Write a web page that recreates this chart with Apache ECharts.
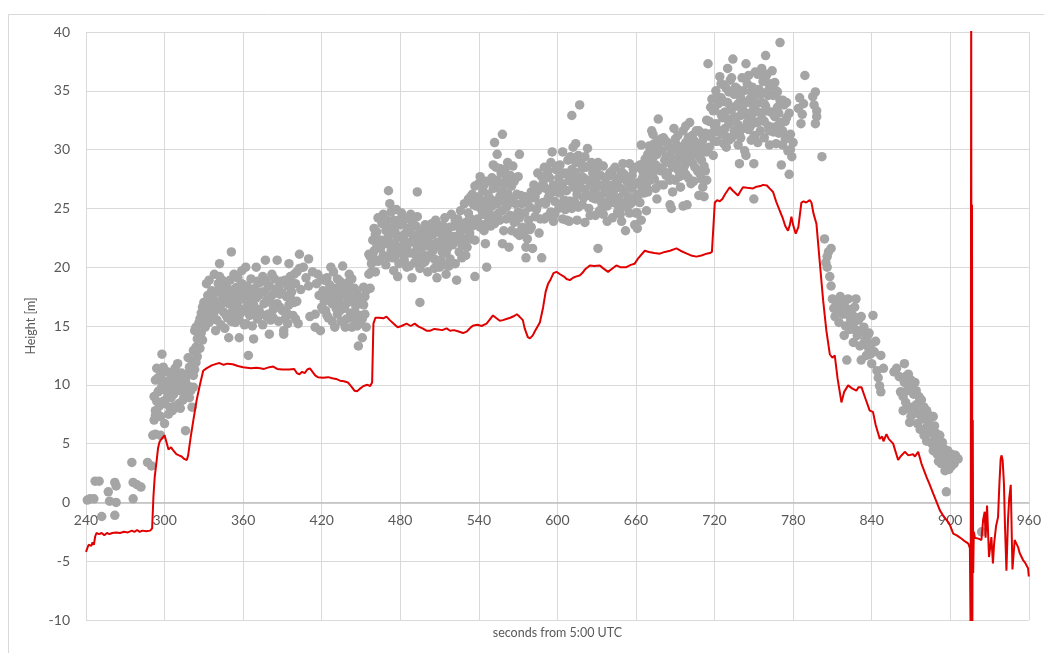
<!DOCTYPE html>
<html>
<head>
<meta charset="utf-8">
<title>Height vs time</title>
<script src="https://cdn.jsdelivr.net/npm/echarts@6/dist/echarts.min.js"></script>
<style>
  html, body { margin: 0; padding: 0; background: #fff; }
  #chart { width: 1044px; height: 653px; }
</style>
</head>
<body>
<div id="chart"></div>
<script>
// axis setup
const xMin = 240, xMax = 960, xStep = 60;
const yMin = -10, yMax = 40, yStep = 5;

// gray dots, [seconds, height], by stretch of time
const dotsClimb = [
  [241,0.2],[243,0.3],[246,0.3],[247,1.8],[250,1.8],[252,-1.2],[257,0.9],[258,0.1],[262,1.7],[263,1.4],[263,0.0],[262,-1.1],
  [275,3.4],[276,1.7],[279,1.5],[282,1.3],[276,0.3],[287,3.4],[290,3.1],[291,5.7],[292,7.0],[293,7.4],[293,7.8],[294,7.7],
  [293,5.8],[297,5.7],[300,6.7],[295,9.4],[296,9.5],[293,10.4],[294,11.4],[298,11.2],[299,11.5],[298,12.6],[297,10.8],
  [300,8.4],[302,8.9],[303,9.6],[305,10.6],[306,7.8],[304,8.1],[307,9.2],[308,11.4],[310,11.8],[310,10.2],[311,8.4],
  [312,9.5],[313,9.8],[314,8.7],[316,10.4],[316,6.1],[317,9.4],[319,8.9],[320,10.9],[321,8.1],[321,12.1],[322,9.8],
  [323,11.3],[323,14.6],[324,13.2],[325,12.4],[326,14.0],[326,15.2],[327,13.1],[328,16.1],[329,13.8],[329,16.6],[330,15.4],
  [292,9.0],[294,8.6],[295,10.6],[296,8.2],[297,7.3],[298,9.9],[299,8.6],[300,10.3],[301,9.5],[302,11.1],[303,7.5],
  [304,10.0],[305,8.9],[306,9.8],[307,10.8],[308,8.2],[309,9.6],[311,10.7],[312,8.0],[313,11.0],[314,9.9],[315,9.0],
  [317,10.9],[318,9.9],[318,12.3],[319,11.5],[320,9.5],[322,12.9],[322,10.8],[324,11.9],[324,14.9],[325,13.9],[327,15.6],
  [328,14.4],[330,17.0]
];
const dotsFirstStep = [
  [331,14.9],[332,18.6],[332,17.1],[333,16.0],[334,18.9],[334,15.3],[335,16.9],[335,15.9],[336,18.0],[337,17.4],[338,19.4],
  [338,16.2],[339,14.6],[340,17.9],[340,15.5],[341,16.7],[342,20.3],[342,19.2],[342,18.2],[343,15.1],[344,17.3],[345,16.2],
  [346,18.5],[346,14.8],[347,17.6],[348,15.7],[349,16.9],[349,14.0],[350,18.9],[350,17.2],[351,21.3],[351,15.4],[352,16.3],
  [353,18.1],[354,17.0],[355,15.8],[356,19.1],[356,16.6],[357,14.0],[357,15.5],[358,17.8],[359,18.6],[360,16.4],[361,17.3],
  [362,20.0],[362,15.2],[363,18.4],[364,12.5],[364,16.1],[365,17.7],[366,19.0],[367,15.0],[368,13.9],[368,16.8],[369,18.2],
  [370,20.0],[370,17.4],[371,15.6],[372,16.4],[373,18.7],[374,17.9],[375,15.1],[376,16.9],[377,20.6],[377,18.9],[378,17.2],
  [379,16.0],[380,14.3],[380,18.4],[381,15.5],[382,17.6],[383,16.4],[384,19.0],[385,18.1],[386,20.6],[386,16.9],[387,15.4],
  [388,17.7],[389,18.8],[390,16.3],[391,14.3],[391,14.6],[392,15.6],[393,17.5],[394,18.4],[395,20.3],[395,16.8],[396,19.2],
  [397,17.9],[398,15.9],[399,19.4],[400,18.6],[401,17.1],[402,15.2],[403,21.1],[403,19.9],[404,18.1],[406,20.0],[408,19.1],
  [410,20.7],[410,18.4],[411,15.8],[413,19.6],[415,14.9],[415,16.0],[416,18.6],[417,19.4],[418,17.6],[419,14.6],[420,16.6],
  [421,18.0],[422,17.1],[423,16.3],[424,19.1],[425,17.7],[425,15.7],[426,18.5],[427,20.0],[428,16.9],[429,19.6],[430,14.9],
  [430,17.4],[431,18.2],[432,16.0],[433,17.0],[434,18.8],[435,15.4],[436,20.1],[436,17.6],[437,16.5],[438,14.9],[439,18.0],
  [440,17.0],[441,19.4],[441,18.4],[442,16.1],[443,14.9],[444,17.3],[445,15.5],[446,16.7],[447,17.8],[448,13.3],[449,15.2],
  [450,15.9],[451,14.0],[452,16.8],[453,17.5],[454,14.9],[454,18.0],
  [331,16.4],[333,17.6],[336,16.5],[337,15.6],[339,17.0],[341,18.6],[343,16.8],[344,18.9],[345,17.7],[347,15.9],[348,18.2],
  [350,16.0],[352,17.6],[353,19.4],[354,15.3],[355,18.3],[357,17.2],[358,16.1],[359,19.7],[360,17.9],[361,15.1],[363,16.7],
  [365,15.9],[366,18.0],[367,17.1],[369,16.2],[371,18.8],[372,17.6],[374,16.0],[375,19.2],[376,17.9],[378,15.8],[379,18.3],
  [381,17.0],[382,19.4],[383,15.7],[385,16.6],[387,18.3],[388,16.6],[390,17.8],[392,18.9],[393,16.2],[394,15.2],[396,17.4],
  [398,18.6],[399,17.0],[400,15.6],[401,19.6],
  [420,19.0],[421,16.4],[422,18.9],[423,17.8],[424,15.9],[426,17.2],[427,18.3],[428,15.4],[429,17.6],[431,16.5],[432,19.0],
  [433,18.0],[434,16.3],[435,17.8],[437,18.5],[438,16.8],[439,15.6],[440,18.7],[442,17.5],[443,19.0],[444,15.8],[445,18.2],
  [446,16.1],[447,15.0],[448,16.9],[450,17.2],[451,15.6],[452,18.3],[453,16.0]
];
const dotsSecondStep = [
  [456,19.4],[456,21.1],[457,18.2],[458,20.3],[458,19.6],[459,22.3],[460,21.4],[461,22.8],[461,19.6],[462,23.0],[463,20.5],
  [464,22.3],[465,21.6],[466,23.7],[467,24.5],[468,22.2],[469,23.1],[470,20.9],[470,24.0],[471,26.5],[471,22.6],[472,25.4],
  [473,21.4],[474,20.8],[474,23.3],[475,24.0],[475,19.7],[476,22.0],[477,23.6],[478,19.2],[478,21.3],[479,24.0],[480,22.6],
  [481,21.7],[482,23.9],[483,20.6],[484,22.9],[485,20.0],[485,21.8],[486,23.3],[487,22.1],[488,24.5],[489,19.1],[489,21.2],
  [490,24.2],[490,22.7],[491,20.4],[492,23.5],[493,26.4],[493,21.7],[494,22.4],[495,17.0],[495,19.9],[496,23.1],[497,21.1],
  [498,22.3],[499,20.5],[500,23.1],[500,21.8],[501,19.6],[502,22.6],[503,20.9],[504,23.7],[505,22.8],[505,21.4],[506,19.9],
  [507,24.0],[508,19.1],[508,22.1],[509,20.5],[510,20.0],[510,23.3],[511,21.7],[512,22.6],[513,20.2],[514,24.2],[515,19.4],
  [515,21.2],[516,23.0],[517,22.3],[518,20.7],[519,24.5],[520,21.9],[521,23.5],[522,20.3],[523,18.9],[523,22.6],[524,24.1],
  [525,21.3],[526,24.8],[526,23.0],[527,20.8],[528,22.2],[529,25.4],[530,23.8],[531,21.7],[532,24.6],[533,22.9],[534,26.0],
  [535,23.5],[536,25.3],[537,19.2],[537,22.3],[538,25.2],[539,24.1],[540,27.1],[540,26.0],[541,23.4],[542,24.9],[543,26.5],
  [544,25.6],[545,22.0],[545,27.3],[546,20.0],[546,23.7],[547,26.2],[548,24.6],[549,25.8],[550,27.6],[551,28.7],[551,24.3],
  [552,30.6],[552,26.8],[553,28.5],[554,29.6],[554,25.4],[555,27.2],[556,28.4],[556,24.0],[557,26.4],[558,31.3],[558,22.0],
  [559,23.1],[560,25.9],[561,27.5],[561,25.1],[562,26.3],[563,21.7],[564,24.4],[565,26.9],[566,28.6],[566,25.8],[567,23.8],
  [568,25.4],[569,22.9],[570,24.7],[571,29.6],[571,22.7],[572,26.1],[573,23.4],[574,22.8],[575,24.6],[576,20.8],[576,21.7],
  [577,22.4],[578,24.0],[579,25.1],[580,23.4],
  [457,20.9],[459,21.1],[460,23.3],[462,21.7],[463,24.2],[464,20.6],[466,22.3],[467,21.0],[468,23.8],[469,20.2],[470,22.0],
  [472,23.3],[473,24.7],[474,22.0],[476,20.8],[476,23.0],[477,24.9],[478,22.5],[479,20.3],[480,23.6],[481,24.6],[482,21.1],
  [483,22.3],[484,24.1],[486,21.2],[487,20.1],[488,22.9],[489,23.8],[491,22.1],[492,21.0],[493,24.3],[494,20.6],[495,23.0],
  [496,21.8],[497,22.6],[498,20.4],[499,23.6],[501,22.3],[502,21.0],[503,23.5],[504,21.9],[506,20.7],[506,23.1],[507,22.0],
  [508,20.4],[509,23.6],[511,20.6],[511,22.9],[512,21.3],[513,23.5],[514,22.0],[516,21.6],[517,20.1],[518,23.4],[519,22.1],
  [520,20.3],[521,22.6],[522,24.0],[524,22.3],[525,23.5],[527,21.9],[528,23.6],[529,22.4],[530,21.0],
  [531,23.2],[532,25.8],[533,24.2],[534,22.4],[535,26.2],[536,24.0],[537,26.9],[538,23.8],[539,25.7],[541,25.1],[541,27.7],
  [542,23.6],[543,24.5],[544,27.0],[544,23.1],[546,25.1],[547,24.3],[548,27.3],[549,23.5],[550,25.2],[551,26.7],[552,23.7],
  [553,25.6],[554,27.4],[555,24.6],[556,26.0],[557,28.0],[558,24.8],[559,27.0],[559,25.6],[560,28.3],[561,24.1],[562,28.9],
  [563,25.4],[564,27.8],[565,23.1],[566,24.3],[567,27.3],[568,23.9],[569,26.2],[570,27.7],[571,24.2],[572,23.0],[573,25.4],
  [575,26.0],[576,23.3],[577,25.6],[579,23.2],[580,26.4]
];
const dotsThirdStep = [
  [581,21.6],[581,25.9],[583,24.3],[585,26.5],[586,22.9],[587,26.8],[588,20.8],[589,27.1],[590,24.1],[591,25.4],[592,27.9],
  [593,28.2],[594,26.2],[595,24.7],[596,29.8],[597,23.9],[597,27.0],[598,25.6],[599,28.3],[600,26.4],[601,27.6],[602,28.7],
  [603,25.3],[604,27.1],[604,24.1],[605,25.7],[606,28.0],[607,24.0],[607,26.5],[608,29.1],[609,23.9],[610,27.3],[611,32.9],
  [611,25.0],[612,30.2],[612,26.8],[613,28.1],[614,30.5],[615,24.0],[615,26.2],[616,27.7],[617,33.8],[617,26.8],[618,29.0],
  [619,25.3],[620,27.6],[621,23.8],[622,28.5],[622,26.1],[623,30.1],[624,25.0],[625,27.2],[626,28.9],[627,25.9],[627,28.0],
  [628,26.6],[629,24.4],[630,28.4],[631,21.6],[632,24.8],[632,26.9],[633,27.8],[634,25.4],[635,24.5],[636,26.3],[637,27.6],
  [638,23.9],[638,25.2],[639,27.0],[640,28.0],[641,26.0],[642,24.2],[642,28.2],[643,25.5],[644,27.1],[645,26.8],[646,24.7],
  [647,25.9],[648,27.5],[649,23.9],[650,28.8],[650,25.1],[651,26.4],[652,23.1],[653,25.1],[653,27.3],[654,26.0],[655,28.8],
  [655,24.6],[656,26.8],[657,27.8],[658,25.6],[659,23.6],[660,28.5],[660,26.0],[661,24.6],[661,23.3],[662,27.2],[663,25.5],
  [664,30.4],[665,27.6],[665,28.2],[666,26.3],[667,29.2],[668,26.8],[668,24.8],[669,28.0],[670,30.3],[671,29.0],[672,31.6],
  [673,29.3],[673,31.3],[674,27.5],[675,28.7],[676,25.8],[676,29.6],[677,32.6],[677,30.8],[678,30.5],[679,28.2],[680,29.9],
  [681,27.0],[682,30.8],[683,29.3],[684,28.0],[685,30.2],[686,27.4],[686,25.3],[687,25.0],[688,28.5],[688,26.4],[689,31.8],
  [690,29.1],[691,30.4],[692,28.3],[693,29.6],[694,26.8],[695,27.8],[696,31.6],[696,25.2],[697,30.0],[698,32.0],[698,27.9],
  [699,25.3],[700,29.2],[701,30.2],[701,32.3],[702,27.1],[703,28.9],[704,30.8],[705,28.5],[706,30.4],[707,29.7],[708,26.1],
  [708,31.6],[709,29.3],[710,27.5],[711,26.8],[711,30.8],[712,26.0],[713,28.2],[714,32.5],[714,29.8],
  [582,27.0],[583,26.0],[584,24.9],[585,28.0],[586,25.4],[587,24.1],[588,27.7],[589,25.5],[590,28.5],[591,26.7],[592,24.3],
  [593,25.9],[594,27.6],[595,28.9],[596,26.4],[598,24.5],[599,26.8],[600,28.6],[601,25.0],[602,26.3],[603,28.0],[604,29.8],
  [605,26.6],[606,24.9],[607,27.9],[608,25.6],[609,27.6],[610,25.6],[610,29.4],[611,28.3],[613,25.6],[613,27.3],[614,28.9],
  [616,25.1],[616,29.5],[618,27.3],[619,28.4],[620,25.9],[621,29.4],[621,26.6],[623,27.4],[624,26.1],[624,28.6],[625,24.4],
  [626,27.0],[628,28.4],[629,25.8],[629,27.4],[630,26.2],[631,28.9],[633,25.7],[634,27.0],[635,28.6],[636,25.2],[637,26.4],
  [639,25.6],[640,26.9],[641,27.8],[643,26.5],[644,28.5],[645,25.4],[646,27.6],[647,26.8],[648,24.5],[649,28.1],[650,26.6],
  [651,27.9],[652,25.5],[654,27.5],[656,25.4],[657,26.7],[658,28.3],[659,27.1],[660,24.6],[662,26.2],[663,28.7],[664,26.9],
  [664,24.0],
  [666,28.8],[667,27.0],[669,29.6],[669,26.4],[670,28.5],[671,27.4],[672,30.0],[673,28.0],[674,30.5],[675,26.7],[675,30.0],
  [677,28.5],[678,27.0],[679,30.9],[680,28.4],[681,31.0],[682,29.1],[683,27.8],[684,30.6],[685,28.9],[686,29.5],[687,27.5],
  [688,30.0],[689,28.7],[690,30.9],[690,27.4],[691,29.0],[692,31.2],[693,27.7],[694,30.2],[695,29.2],[696,28.2],[697,28.6],
  [698,30.6],[699,29.4],[700,27.6],[700,31.0],[702,29.8],[703,31.2],[704,27.3],[705,29.6],[706,31.6],[707,28.2],[708,30.2],
  [709,27.9],[710,31.4],[710,29.1],[712,30.2],[712,28.6],[713,31.4],[714,27.4]
];
const dotsTop = [
  [715,37.3],[716,30.2],[717,33.6],[718,31.4],[719,29.5],[719,33.3],[720,32.0],[721,35.0],[722,30.7],[723,33.9],[724,36.2],
  [724,31.6],[725,34.4],[726,32.7],[727,30.5],[727,35.5],[728,33.2],[729,30.2],[729,31.1],[730,36.9],[730,34.0],[731,32.2],
  [732,35.9],[732,33.4],[733,31.0],[734,37.7],[734,33.6],[735,34.7],[736,32.4],[737,35.2],[738,30.4],[738,33.9],[739,28.8],
  [739,31.3],[739,34.8],[740,32.9],[741,36.1],[742,33.3],[743,29.9],[744,37.3],[744,33.0],[744,29.5],[745,35.6],[746,31.7],
  [747,31.9],[747,34.3],[748,32.8],[749,35.3],[750,28.8],[750,25.8],[750,33.6],[751,31.2],[752,33.9],[753,36.4],[753,30.6],
  [754,32.4],[755,34.7],[756,33.1],[757,32.5],[757,35.8],[758,31.0],[759,38.0],[759,36.2],[759,33.7],[760,34.9],[761,32.0],
  [762,30.4],[762,35.4],[763,33.2],[764,36.7],[764,31.9],[765,34.6],[766,32.8],[767,35.0],[767,30.5],[768,33.6],[769,31.4],
  [770,39.1],[770,34.2],[771,28.7],[771,32.3],[772,31.6],[773,33.8],[774,30.9],[775,32.7],[776,29.9],[777,27.9],[778,31.3],
  [779,29.4],[780,30.6],[784,33.5],[786,32.2],[788,33.9],[789,36.3],[795,34.5],[797,32.2],[798,33.3],[798,32.8],[802,29.4],
  [716,32.4],[717,31.1],[718,34.3],[720,33.5],[720,30.7],[721,32.2],[722,34.5],[723,31.5],[725,33.0],[725,35.6],[726,31.3],
  [727,34.1],[728,31.8],[729,35.2],[730,32.6],[731,34.9],[731,30.8],[733,33.4],[733,36.1],[735,31.6],[735,32.8],[736,35.3],
  [737,33.7],[738,32.1],[740,34.4],[740,31.0],[741,33.2],[742,35.0],[742,31.8],[743,34.0],[745,32.3],[745,34.0],[746,36.3],
  [747,33.1],[748,30.8],[748,34.9],[749,32.2],[750,31.1],[751,34.6],[751,36.6],[752,32.3],[753,33.2],[754,35.1],[755,31.6],
  [756,34.0],[756,36.9],[758,33.9],[758,32.4],[760,33.3],[760,36.4],[761,34.6],[762,31.6],[763,35.6],[765,33.0],[765,31.5],
  [766,35.7],[768,32.0],[768,34.9],[769,33.1],[770,32.2],[772,34.2],[772,30.4],[774,32.4],[775,34.0],[777,33.1],[778,30.0],
  [785,34.4],[787,33.0],[796,33.8],[797,34.9]
];
const dotsDescent = [
  [804,22.4],[806,20.9],[806,20.0],[805,20.4],[807,21.3],[809,21.6],[809,18.4],[811,16.5],[813,17.0],[816,17.5],[818,16.0],
  [819,14.2],[820,15.0],[821,12.1],[822,17.3],[823,16.4],[825,16.0],[826,15.2],[827,14.7],[828,17.3],[829,14.2],[830,15.5],
  [831,13.3],[832,12.1],[833,14.5],[834,14.9],[835,13.8],[836,12.5],[837,14.2],[838,13.0],[840,13.5],[840,11.8],[841,15.9],
  [842,12.8],[846,9.9],[847,9.4],[847,12.5],[849,11.4],[859,11.4],[864,7.8],[865,11.8],[865,10.2],[866,8.5],[867,9.5],
  [868,10.9],[869,6.8],[870,10.4],[871,8.1],[872,9.2],[874,9.5],[875,6.7],[876,7.5],[877,8.8],[878,8.7],[879,7.1],[880,5.7],
  [881,6.3],[882,7.8],[883,6.9],[884,6.6],[885,5.9],[886,5.0],[887,7.3],[888,5.3],[889,4.6],[890,5.6],[891,4.3],[892,4.9],
  [893,3.3],[894,5.1],[895,3.8],[896,2.7],[897,4.2],[897,0.9],[898,3.4],[899,2.8],[900,3.9],[901,3.1],[902,3.7],[903,3.3],
  [904,4.0],[906,3.7],[924,-2.5],
  [808,19.2],[810,17.3],[812,15.8],[814,16.2],[815,15.3],[817,16.7],[819,16.9],[820,17.2],[821,16.0],[823,14.7],[824,15.5],
  [826,13.6],[827,16.6],[829,15.7],[831,14.6],[832,15.8],[834,13.5],[836,13.4],[838,14.4],[839,12.6],[843,13.7],[844,11.2],
  [845,10.6],[857,11.1],[861,10.7],[862,9.4],[863,10.6],[864,9.0],[866,10.7],[868,8.0],[869,9.8],[870,7.3],[871,9.7],
  [873,7.9],[873,10.2],[874,8.3],[876,9.0],[877,6.2],[878,7.6],[880,8.1],[881,7.2],[882,5.2],[883,5.9],[884,7.4],[886,6.1],
  [887,4.4],[888,6.5],[889,5.9],[890,4.1],[891,3.5],[892,5.7],[893,4.5],[894,3.9],[895,4.6],[896,3.4],[898,4.4],[899,3.7],
  [900,3.1],[901,4.1],[903,3.8]
];

// red trace, [seconds, height]
const redTrace = [
  [240,-4.2],[241,-3.9],[242,-3.6],[243,-3.5],[244,-3.7],[245,-3.4],[246,-3.6],[247,-2.9],[248,-2.6],[250,-2.7],[252,-2.6],
  [254,-2.8],[256,-2.6],[258,-2.7],[260,-2.6],[263,-2.55],[266,-2.6],[269,-2.5],[272,-2.55],[275,-2.4],[277,-2.5],[279,-2.35],
  [281,-2.5],[283,-2.4],[286,-2.45],[289,-2.4],[290.5,-2.2],[291.5,0.5],[292.5,2.2],[294,3.6],[295,4.6],[296,5.1],[297,5.3],
  [298.5,5.5],[300,5.7],[301,5.3],[302,4.9],[303,4.5],[304,4.6],[305,4.7],[306,4.5],[307,4.4],[309,4.1],[311,4.0],[313,3.9],
  [315,3.7],[317,3.6],[318,4.0],[320,5.6],[322,7.0],[324.5,8.7],[327,10.0],[329.5,11.2],[332,11.4],[336,11.65],[340,11.8],
  [342,11.85],[345,11.7],[348,11.8],[352,11.75],[356,11.6],[360,11.5],[363,11.45],[366,11.4],[370,11.45],[373,11.4],
  [376,11.35],[380,11.5],[383,11.55],[386,11.35],[390,11.3],[395,11.3],[399,11.35],[401,11.0],[403,10.9],[405,11.1],
  [407,11.0],[409,11.3],[411,11.4],[413,11.1],[415,10.8],[417,10.65],[421,10.6],[425,10.65],[428,10.55],[431,10.5],
  [434,10.35],[437,10.3],[440,10.2],[443,9.8],[445,9.5],[447,9.45],[449,9.65],[452,9.9],[455,10.0],[457,9.9],[458.5,10.2],
  [459.5,15.2],[461,15.7],[464,15.7],[467,15.65],[469.5,15.8],[472,15.5],[475,15.2],[478,14.9],[481,15.0],[484.8,15.2],
  [488,15.0],[491,15.2],[494,14.95],[497,14.8],[500,14.6],[503,14.6],[506,14.75],[509,14.7],[512,14.65],[515.4,14.8],
  [518,14.6],[521,14.65],[524,14.55],[528,14.4],[531,14.55],[534,14.9],[536,15.05],[539,15.1],[542,15.0],[545.9,15.2],
  [548,15.5],[550.8,15.9],[553,15.7],[556,15.45],[558.4,15.5],[561,15.6],[564,15.7],[567,15.85],[569,16.0],[571,15.8],
  [573.6,15.5],[575,14.8],[577.4,14.06],[579,13.95],[581.2,14.2],[583,14.6],[586.6,15.3],[588,15.4],[589.1,16.6],[591,17.9],
  [592.9,18.6],[595,19.0],[597,19.5],[599.3,19.6],[602,19.4],[605,19.2],[607,19.0],[609.5,18.9],[612,19.1],[614,19.2],
  [617,19.3],[619,19.5],[621,19.8],[624.8,20.15],[628,20.1],[632.4,20.15],[635,19.9],[638.7,19.6],[641,19.8],[645,20.15],
  [648,20.0],[652.7,20.0],[656,20.2],[659,20.3],[662,20.8],[666.7,21.4],[670,21.3],[674,21.2],[678.2,21.15],[682,21.3],
  [686,21.4],[690.9,21.6],[694,21.4],[698,21.2],[702,21.0],[706.2,20.9],[710,21.0],[714,21.15],[716.4,21.2],[718,21.3],
  [720.2,25.5],[722,25.7],[724,25.6],[726,25.8],[728,26.2],[731.6,26.8],[734,26.5],[737.9,26.1],[740,26.5],[741.7,26.8],
  [745,26.75],[749.4,26.7],[752,26.85],[755,26.9],[757,27.0],[760,26.95],[762,26.7],[764.7,26.4],[767,25.6],[769.8,24.8],
  [772,24.2],[774,23.5],[776.1,23.1],[777.5,23.6],[778.7,24.3],[780,23.6],[782,22.85],[784,23.4],[786.3,25.5],[788,25.6],
  [790,25.5],[792.7,25.7],[794,25.5],[795.5,24.6],[797.8,23.7],[800.3,20.5],[802.9,17.2],[805.4,14.6],[808,12.6],[810,12.3],
  [811.8,12.5],[814,10.5],[816.9,8.5],[819,9.4],[822,9.95],[825,9.7],[828.3,9.5],[830,9.8],[832.2,9.8],[835,8.9],[838.5,7.8],
  [841,7.7],[843,6.6],[846.2,5.4],[848,5.6],[849,5.2],[851.3,5.8],[853,5.4],[856.4,5.0],[858,4.4],[860.2,3.6],[862,3.9],
  [865.3,4.3],[868,4.0],[871.6,4.1],[873,3.9],[875.5,4.3],[878,3.3],[881.9,2.15],[884,1.6],[887,0.74],[889,0.2],[892.1,-0.68],
  [895,-1.2],[898.5,-1.67],[900,-2.0],[902.3,-2.66],[905,-2.8],[908.7,-3.09],[911,-3.3],[913.8,-3.5],[915,-3.9],[915.6,-12],
  [916.0,45],[916.3,-12],[916.6,25.3],[916.9,-10.5],[917.2,7.0],[917.5,-6],[918,-2.5],[918.8,-3.0],[920,-2.95],[922,-3.1],
  [923.8,-3.2],[925.1,-1.5],[926.3,-0.8],[927,-3.0],[928.1,-0.26],[929.6,-4.65],[931.4,-2.95],[932.6,-5.2],[933.5,-3.5],
  [935,-2.0],[936.5,-1.25],[937.5,1.5],[938.5,3.7],[939.1,4.0],[940,3.6],[941,1.6],[941.8,-2.0],[942.9,-5.8],[944.1,-1.5],
  [945,0.3],[946.2,1.5],[947.5,-5.7],[949.2,-3.2],[950.5,-3.5],[951.8,-3.8],[953,-4.3],[955.6,-4.9],[957,-5.1],[959.4,-5.6],
  [960,-6.3]
];

const dots = [].concat(dotsClimb, dotsFirstStep, dotsSecondStep, dotsThirdStep, dotsTop, dotsDescent);

const chart = echarts.init(document.getElementById("chart"));
const labelFont = { color: "#595959", fontSize: 14, fontFamily: "Lato" };
const nameFont = { color: "#595959", fontSize: 12.5, fontFamily: "Lato" };
const gridColor = "#d9d9d9";

// plot box in px: top 32, bottom 620 -> zero line sits 40/50 of the way down
const gridTop = 32, gridBottom = 33, plotH = 653 - gridTop - gridBottom;
const zeroShift = -plotH * (0 - yMin) / (yMax - yMin);

const option = {
  animation: false,
  backgroundColor: "#fff",
  graphic: [
    {
      type: "rect",
      shape: { x: 8.5, y: 14.5, width: 1050, height: 660 },
      style: { fill: "none", stroke: "#d9d9d9", lineWidth: 1 },
      silent: true
    }
  ],
  grid: { left: 86, right: 15, top: gridTop, bottom: gridBottom },
  xAxis: [
    {
      type: "value",
      min: xMin,
      max: xMax,
      interval: xStep,
      offset: zeroShift,
      axisLine: { onZero: false, lineStyle: { color: "#bfbfbf", width: 1.5 } },
      axisTick: { show: false },
      axisLabel: Object.assign({ margin: 11 }, labelFont),
      splitLine: { lineStyle: { color: gridColor, width: 1 } }
    },
    {
      type: "value",
      position: "bottom",
      min: xMin,
      max: xMax,
      axisLine: { show: false, onZero: false },
      axisTick: { show: false },
      axisLabel: { show: false },
      splitLine: { show: false },
      name: "seconds from 5:00 UTC",
      nameLocation: "middle",
      nameGap: 6,
      nameTextStyle: Object.assign({ verticalAlign: "top" }, nameFont)
    }
  ],
  yAxis: {
    type: "value",
    min: yMin,
    max: yMax,
    interval: yStep,
    axisLine: { show: false },
    axisTick: { show: false },
    axisLabel: Object.assign({ margin: 16 }, labelFont),
    splitLine: { lineStyle: { color: gridColor, width: 1 } },
    name: "Height [m]",
    nameLocation: "middle",
    nameGap: 39,
    nameRotate: 90,
    nameTextStyle: nameFont
  },
  series: [
    {
      name: "dots",
      type: "scatter",
      data: dots,
      symbol: "circle",
      symbolSize: 9.5,
      itemStyle: { color: "#a5a5a5", opacity: 1 },
      z: 2
    },
    {
      name: "trace",
      type: "line",
      data: redTrace,
      showSymbol: false,
      symbol: "none",
      lineStyle: { color: "#e00000", width: 2 },
      clip: true,
      z: 3
    }
  ]
};

chart.setOption(option);
</script>
</body>
</html>
